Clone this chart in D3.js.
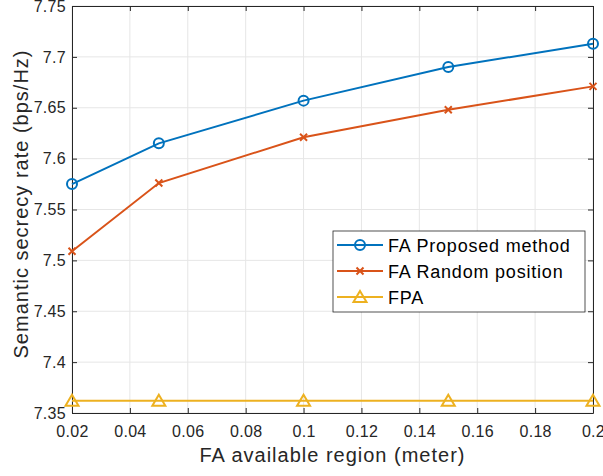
<!DOCTYPE html>
<html>
<head>
<meta charset="utf-8">
<script src="https://cdn.jsdelivr.net/npm/d3@7"></script>
<style>
body { margin: 0; background: #fff; }
svg { font-family: "Liberation Sans", Arial, sans-serif; }
</style>
</head>
<body>
<svg id="chart" width="603" height="476"></svg>
<script>
var regions = [0.02, 0.05, 0.1, 0.15, 0.2];
var proposed = [7.575, 7.615, 7.657, 7.690, 7.713];
var randomPos = [7.509, 7.576, 7.621, 7.648, 7.671];
var fpa = [7.362, 7.362, 7.362, 7.362, 7.362];
var xTicks = [0.02, 0.04, 0.06, 0.08, 0.1, 0.12, 0.14, 0.16, 0.18, 0.2];
var yTicks = [7.35, 7.4, 7.45, 7.5, 7.55, 7.6, 7.65, 7.7, 7.75];
var seriesNames = ["FA Proposed method", "FA Random position", "FPA"];

var svg = d3.select("#chart");
var padL = 72, padR = 593, padT = 6, padB = 413;
var axisColor = "#262626";

var x = d3.scaleLinear().domain([0.02, 0.2]).range([padL, padR]);
var y = d3.scaleLinear().domain([7.35, 7.75]).range([padB, padT]);

// grid
svg.append("g").selectAll("line").data(xTicks).enter().append("line")
    .attr("x1", d => x(d)).attr("x2", d => x(d))
    .attr("y1", padT).attr("y2", padB)
    .attr("stroke", "#e6e6e6").attr("stroke-width", 1);
svg.append("g").selectAll("line").data(yTicks).enter().append("line")
    .attr("x1", padL).attr("x2", padR)
    .attr("y1", d => y(d)).attr("y2", d => y(d))
    .attr("stroke", "#e6e6e6").attr("stroke-width", 1);

// axes
var fmt = d => String(+d.toFixed(2));
svg.append("g").attr("transform", "translate(0," + padB + ")")
    .call(d3.axisBottom(x).tickValues(xTicks).tickFormat(fmt).tickSizeInner(-5).tickSizeOuter(0).tickPadding(13));
svg.append("g").attr("transform", "translate(" + padL + ",0)")
    .call(d3.axisLeft(y).tickValues(yTicks).tickFormat(fmt).tickSizeInner(-5).tickSizeOuter(0).tickPadding(6));
svg.append("g").attr("transform", "translate(0," + padT + ")")
    .call(d3.axisTop(x).tickValues(xTicks).tickFormat("").tickSizeInner(-5).tickSizeOuter(0));
svg.append("g").attr("transform", "translate(" + padR + ",0)")
    .call(d3.axisRight(y).tickValues(yTicks).tickFormat("").tickSizeInner(-5).tickSizeOuter(0));
svg.selectAll(".domain, .tick line").attr("stroke", axisColor).attr("stroke-width", 1);
svg.selectAll(".tick text").attr("fill", axisColor).style("font-size", "16px").style("letter-spacing", "0.3px");

// labels
svg.append("text").attr("x", (padL + padR) / 2).attr("y", 462)
    .attr("text-anchor", "middle").attr("fill", axisColor).style("font-size", "20px")
    .style("letter-spacing", "1px")
    .text("FA available region (meter)");
svg.append("text").attr("transform", "translate(28,204) rotate(-90)")
    .attr("text-anchor", "middle").attr("fill", axisColor).style("font-size", "20px")
    .style("letter-spacing", "1px")
    .text("Semantic secrecy rate (bps/Hz)");

var colors = ["#0072BD", "#D95319", "#EDB120"];
var allData = [proposed, randomPos, fpa];
var line = d3.line().x((d, i) => x(regions[i])).y(d => y(d));

function marker(g, kind, cx, cy, color) {
    if (kind === 0) {
        g.append("circle").attr("cx", cx).attr("cy", cy).attr("r", 5)
            .attr("fill", "none").attr("stroke", color).attr("stroke-width", 2);
    } else if (kind === 1) {
        var s = 3.5;
        g.append("path").attr("d", "M" + (cx - s) + "," + (cy - s) + "L" + (cx + s) + "," + (cy + s) +
            "M" + (cx - s) + "," + (cy + s) + "L" + (cx + s) + "," + (cy - s))
            .attr("stroke", color).attr("stroke-width", 2).attr("fill", "none");
    } else {
        g.append("path").attr("d", "M" + cx + "," + (cy - 6) + "L" + (cx + 6.5) + "," + (cy + 5) + "L" + (cx - 6.5) + "," + (cy + 5) + "Z")
            .attr("stroke", color).attr("stroke-width", 2).attr("fill", "none");
    }
}

allData.forEach(function (vals, k) {
    var g = svg.append("g");
    g.append("path").datum(vals).attr("d", line)
        .attr("fill", "none").attr("stroke", colors[k]).attr("stroke-width", 2);
    vals.forEach(function (v, i) { marker(g, k, x(regions[i]), y(v), colors[k]); });
});

// legend
var lg = svg.append("g");
lg.append("rect").attr("x", 333).attr("y", 231).attr("width", 252).attr("height", 81)
    .attr("fill", "#fff").attr("stroke", "#262626").attr("stroke-width", 0.8);
seriesNames.forEach(function (name, k) {
    var ly = 245 + k * 26;
    lg.append("line").attr("x1", 337).attr("x2", 383).attr("y1", ly).attr("y2", ly)
        .attr("stroke", colors[k]).attr("stroke-width", 2);
    marker(lg, k, 360, ly, colors[k]);
    lg.append("text").attr("x", 388).attr("y", ly + 7).attr("fill", "#000")
        .style("font-size", "18px").style("letter-spacing", "0.8px").text(name);
});
</script>
</body>
</html>
